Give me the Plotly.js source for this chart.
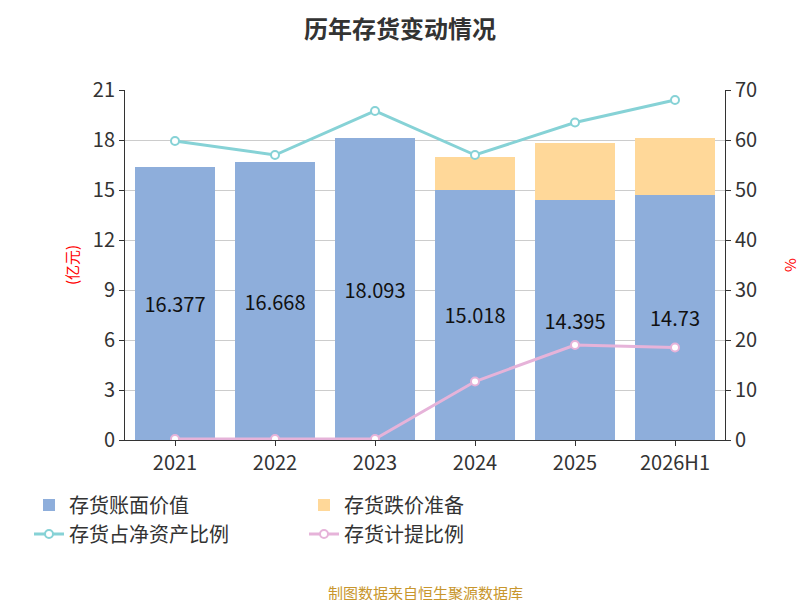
<!DOCTYPE html>
<html><head><meta charset="utf-8">
<script src="https://cdn.plot.ly/plotly-3.0.1.min.js"></script>
</head><body style="margin:0">
<div id="chart" style="width:800px;height:600px"></div>
<script>
var years = ['2021', '2022', '2023', '2024', '2025', '2026H1'];
var bookValue = [16.377, 16.668, 18.093, 15.018, 14.395, 14.73];
var reserve = [0, 0, 0, 1.98, 3.4, 3.37];
var netAssetRatio = [59.8, 57.0, 65.8, 57.0, 63.5, 68.0];
var provisionRatio = [0.2, 0.2, 0.2, 11.7, 19.0, 18.5];

var font = {family: 'Noto Sans CJK SC, Noto Sans, sans-serif', color: '#333'};

var bars1 = {
  x: years, y: bookValue, type: 'bar', name: '存货账面价值',
  marker: {color: '#8eaedb'},
  text: bookValue.map(String), textposition: 'inside', insidetextanchor: 'middle',
  textfont: {size: 20, color: '#111'}
};
var bars2 = {
  x: years, y: reserve, type: 'bar', name: '存货跌价准备',
  marker: {color: '#ffd899'}, hoverinfo: 'y'
};
var line1 = {
  x: years, y: netAssetRatio, type: 'scatter', mode: 'lines+markers', yaxis: 'y2',
  name: '存货占净资产比例',
  line: {color: '#86d2d6', width: 3},
  marker: {color: '#fff', size: 8, line: {color: '#86d2d6', width: 2}}
};
var line2 = {
  x: years, y: provisionRatio, type: 'scatter', mode: 'lines+markers', yaxis: 'y2',
  name: '存货计提比例',
  line: {color: '#e6b3d9', width: 3},
  marker: {color: '#fff', size: 8, line: {color: '#e6b3d9', width: 2}}
};

var layout = {
  font: font,
  barmode: 'stack',
  bargap: 0.2,
  title: {text: '<b>历年存货变动情况</b>', x: 0.5, y: 0.965, font: {size: 24, color: '#333'}},
  margin: {l: 125, r: 75, t: 90, b: 160},
  xaxis: {type: 'category', tickfont: {size: 20}, showline: true, linecolor: '#333',
    ticks: 'outside', tickcolor: '#333'},
  yaxis: {
    range: [0, 21], dtick: 3, tickfont: {size: 20}, gridcolor: '#ccc',
    showline: true, linecolor: '#333', ticks: 'outside', tickcolor: '#333', zeroline: false,
    title: {text: '(亿元)', font: {size: 15, color: 'red'}, standoff: 10}
  },
  yaxis2: {
    overlaying: 'y', side: 'right', range: [0, 70], dtick: 10, tickfont: {size: 20},
    showgrid: false, showline: true, linecolor: '#333', ticks: 'outside', tickcolor: '#333',
    zeroline: false, title: {text: '%', font: {size: 15, color: 'red'}, standoff: 30}
  },
  legend: {orientation: 'h', x: -0.16, y: -0.13, xanchor: 'left', yanchor: 'top',
    font: {size: 20}, traceorder: 'normal', entrywidth: 230},
  annotations: [{text: '制图数据来自恒生聚源数据库', xref: 'paper', yref: 'paper',
    x: 0.5, y: -0.4, showarrow: false, font: {size: 15, color: '#c8962d'}, yanchor: 'top'}],
  showlegend: true,
  paper_bgcolor: '#fff', plot_bgcolor: '#fff'
};

Plotly.newPlot('chart', [bars1, bars2, line1, line2], layout, {displayModeBar: false});
</script>
</body></html>
